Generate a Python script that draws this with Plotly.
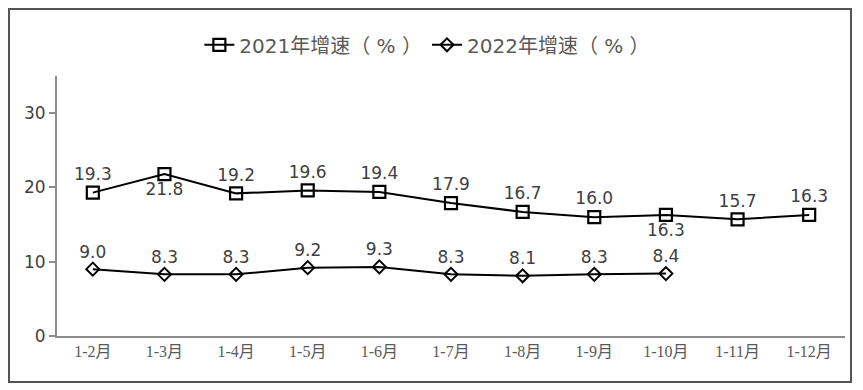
import plotly.graph_objects as go

categories = ["1-2月", "1-3月", "1-4月", "1-5月", "1-6月", "1-7月", "1-8月", "1-9月", "1-10月", "1-11月", "1-12月"]
growth_2021 = [19.3, 21.8, 19.2, 19.6, 19.4, 17.9, 16.7, 16.0, 16.3, 15.7, 16.3]
growth_2022 = [9.0, 8.3, 8.3, 9.2, 9.3, 8.3, 8.1, 8.3, 8.4]
pos_2021 = ["top center", "bottom center", "top center", "top center", "top center", "top center",
            "top center", "top center", "bottom center", "top center", "top center"]
y_ticks = [0, 10, 20, 30]

label_font = dict(family="DejaVu Sans, Noto Sans CJK SC", size=17, color="#404040")

fig = go.Figure()
fig.add_trace(go.Scatter(
    x=categories, y=growth_2021, name="2021年增速（ % ）",
    mode="lines+markers+text", text=[f"{v:.1f}" for v in growth_2021],
    textposition=pos_2021, textfont=label_font,
    line=dict(color="black", width=2),
    marker=dict(symbol="square-open", size=12, color="black", line=dict(width=2.2, color="black")),
))
fig.add_trace(go.Scatter(
    x=categories[:len(growth_2022)], y=growth_2022, name="2022年增速（ % ）",
    mode="lines+markers+text", text=[f"{v:.1f}" for v in growth_2022],
    textposition="top center", textfont=label_font,
    line=dict(color="black", width=2),
    marker=dict(symbol="diamond-open", size=10, color="black", line=dict(width=2, color="black")),
))

# page body has an 8px margin, so the figure is shrunk by 8px and margins adjusted
fig.update_layout(
    width=855, height=382,
    margin=dict(l=49, r=18, t=68, b=54),
    paper_bgcolor="white", plot_bgcolor="white",
    showlegend=True,
    legend=dict(orientation="h", x=0.47, xanchor="center", y=1.12, yanchor="middle",
                font=dict(family="DejaVu Sans, Noto Sans CJK SC", size=20, color="#595959"),
                itemwidth=30, bgcolor="rgba(0,0,0,0)"),
    xaxis=dict(type="category", categoryorder="array", categoryarray=categories,
               range=[-0.5, len(categories) - 0.5],
               showline=True, linecolor="#8c8c8c", linewidth=2, showgrid=False, ticks="",
               tickfont=dict(family="Liberation Serif, Noto Sans CJK SC", size=16, color="#595959"),
               fixedrange=True),
    yaxis=dict(range=[0, 35], tickvals=y_ticks, showline=True, linecolor="#8c8c8c", linewidth=2,
               showgrid=False, zeroline=False, ticks="outside", ticklen=6, tickcolor="#8c8c8c",
               tickwidth=1.5,
               tickfont=dict(family="DejaVu Sans", size=17, color="#404040")),
    shapes=[dict(type="rect", xref="paper", yref="paper",
                 x0=(9 - 57) / 788, x1=(851 - 57) / 788,
                 y0=(336 - 382) / 260, y1=(336 - 9) / 260,
                 line=dict(color="#555555", width=2), fillcolor="rgba(0,0,0,0)")],
)

fig.write_html("out.html")
